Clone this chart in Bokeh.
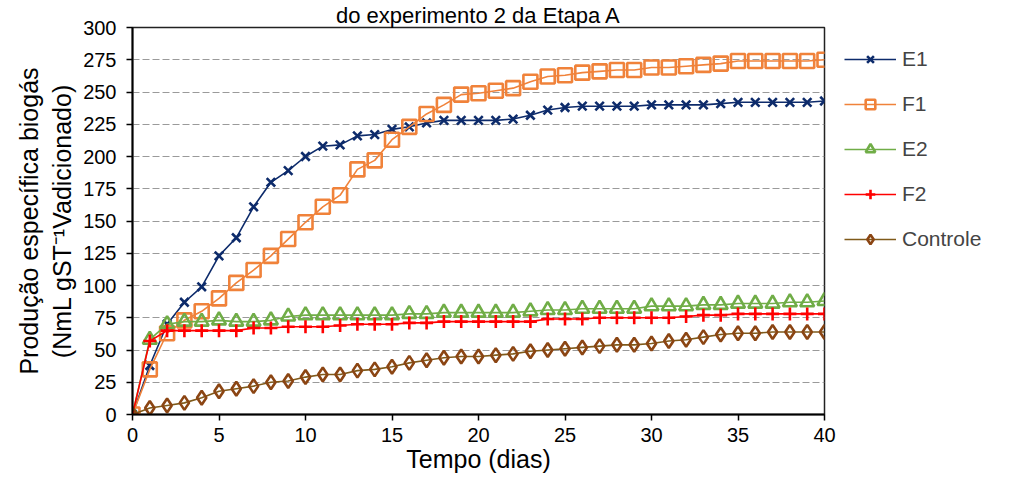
from bokeh.plotting import figure
from bokeh.models import Legend, LegendItem, FixedTicker, Range1d
from bokeh.embed import file_html
from bokeh.resources import INLINE

days = list(range(41))
E1 = [0, 38, 70, 87, 99, 123, 137, 161, 180, 189,
      200, 208, 209, 216, 217, 221, 223, 226, 228, 228,
      228, 228, 229, 232, 236, 238, 239, 239, 239, 239,
      240, 240, 240, 240, 241, 242, 242, 242, 242, 242, 243]
F1 = [0, 35, 63, 73, 80, 90, 102, 112, 123, 136,
      149, 161, 170, 190, 197, 213, 223, 233, 240, 248,
      249, 251, 253, 258, 262, 263, 265, 266, 267, 267,
      269, 269, 270, 271, 272, 274, 274, 274, 274, 274, 275]
E2 = [0, 58, 70, 72, 72, 73, 72, 72, 73, 76,
      77, 77, 77, 77, 77, 77, 78, 78, 79, 79,
      79, 79, 79, 80, 81, 81, 82, 82, 82, 82,
      84, 84, 84, 85, 85, 86, 86, 86, 87, 87, 88]
F2 = [0, 57, 65, 65, 65, 65, 65, 67, 67, 68,
      68, 68, 69, 70, 70, 70, 71, 71, 72, 72,
      72, 72, 72, 72, 74, 74, 74, 75, 75, 75,
      75, 75, 76, 77, 77, 78, 78, 78, 78, 78, 78]
Controle = [0, 5, 7, 9, 13, 18, 20, 22, 25, 26,
            29, 31, 31, 34, 35, 37, 40, 42, 44, 45,
            45, 46, 47, 49, 50, 51, 52, 53, 54, 54,
            55, 57, 58, 60, 62, 63, 63, 64, 64, 64, 64]

series_names = ["E1", "F1", "E2", "F2", "Controle"]
x_ticks = [0, 5, 10, 15, 20, 25, 30, 35, 40]
y_ticks = list(range(0, 301, 25))

FONT = "Liberation Sans"

p = figure(frame_width=692, frame_height=387, output_backend="svg",
           toolbar_location=None,
           x_range=Range1d(0, 40), y_range=Range1d(0, 300),
           min_border_left=132, min_border_right=0, min_border_top=0,
           min_border_bottom=0)

p.title.text = "do experimento 2 da Etapa A"
p.title.align = "center"
p.title.vertical_align = "bottom"
p.title.standoff = 0
p.title.text_font = FONT
p.title.text_font_size = "22px"
p.title.text_font_style = "normal"
p.title.text_color = "black"

p.outline_line_color = "#222222"
p.outline_line_width = 1.5
p.xgrid.grid_line_color = None
p.ygrid.grid_line_color = "#9a9a9a"
p.ygrid.grid_line_dash = "7 3"
p.ygrid.grid_line_width = 1.2

p.xaxis.ticker = FixedTicker(ticks=x_ticks)
p.yaxis.ticker = FixedTicker(ticks=y_ticks)
for ax in (p.xaxis[0], p.yaxis[0]):
    ax.axis_line_color = "black"
    ax.axis_line_width = 2
    ax.major_tick_line_color = "black"
    ax.major_tick_line_width = 1.5
    ax.major_tick_out = 6
    ax.major_tick_in = 0
    ax.minor_tick_out = 0
    ax.minor_tick_in = 0
    ax.major_label_text_font = FONT
    ax.major_label_text_font_size = "20px"
    ax.major_label_text_color = "black"
    ax.axis_label_text_font = FONT
    ax.axis_label_text_font_size = "25px"
    ax.axis_label_text_font_style = "normal"
    ax.axis_label_text_color = "black"

p.xaxis.major_label_standoff = 7
p.xaxis.axis_label = "Tempo (dias)"
p.xaxis.axis_label_standoff = 0
p.yaxis.major_label_standoff = 10
p.yaxis.axis_label = "Produção específica biogás\n(NmL gST⁻¹Vadicionado)"
p.yaxis.axis_label_standoff = 4

styles = {
    "E1": dict(data=E1, color="#0D2B6B", marker="x", size=12),
    "F1": dict(data=F1, color="#F0823A", marker="square", size=14),
    "E2": dict(data=E2, color="#70AD47", marker="triangle", size=14),
    "F2": dict(data=F2, color="#FF0000", marker="cross", size=13),
    "Controle": dict(data=Controle, color="#8B4513", marker="diamond", size=14),
}

items = []
for name in series_names:
    s = styles[name]
    line_color = "#7F5A1A" if name == "Controle" else s["color"]
    lr = p.line(days, s["data"], line_color=line_color, line_width=1.6)
    sr = p.scatter(days, s["data"], marker=s["marker"], size=s["size"],
                   line_color=s["color"], fill_color=None, line_width=2.6)
    items.append(LegendItem(label=name, renderers=[lr, sr]))

legend = Legend(items=items, location="top_left", orientation="vertical",
                padding=20, margin=0, spacing=21, glyph_width=52,
                glyph_height=24, label_height=24, label_standoff=6,
                label_text_font=FONT, label_text_font_size="21px",
                border_line_alpha=0, background_fill_alpha=0)
p.add_layout(legend, "right")

open("out.html", "w").write(file_html(p, INLINE))
